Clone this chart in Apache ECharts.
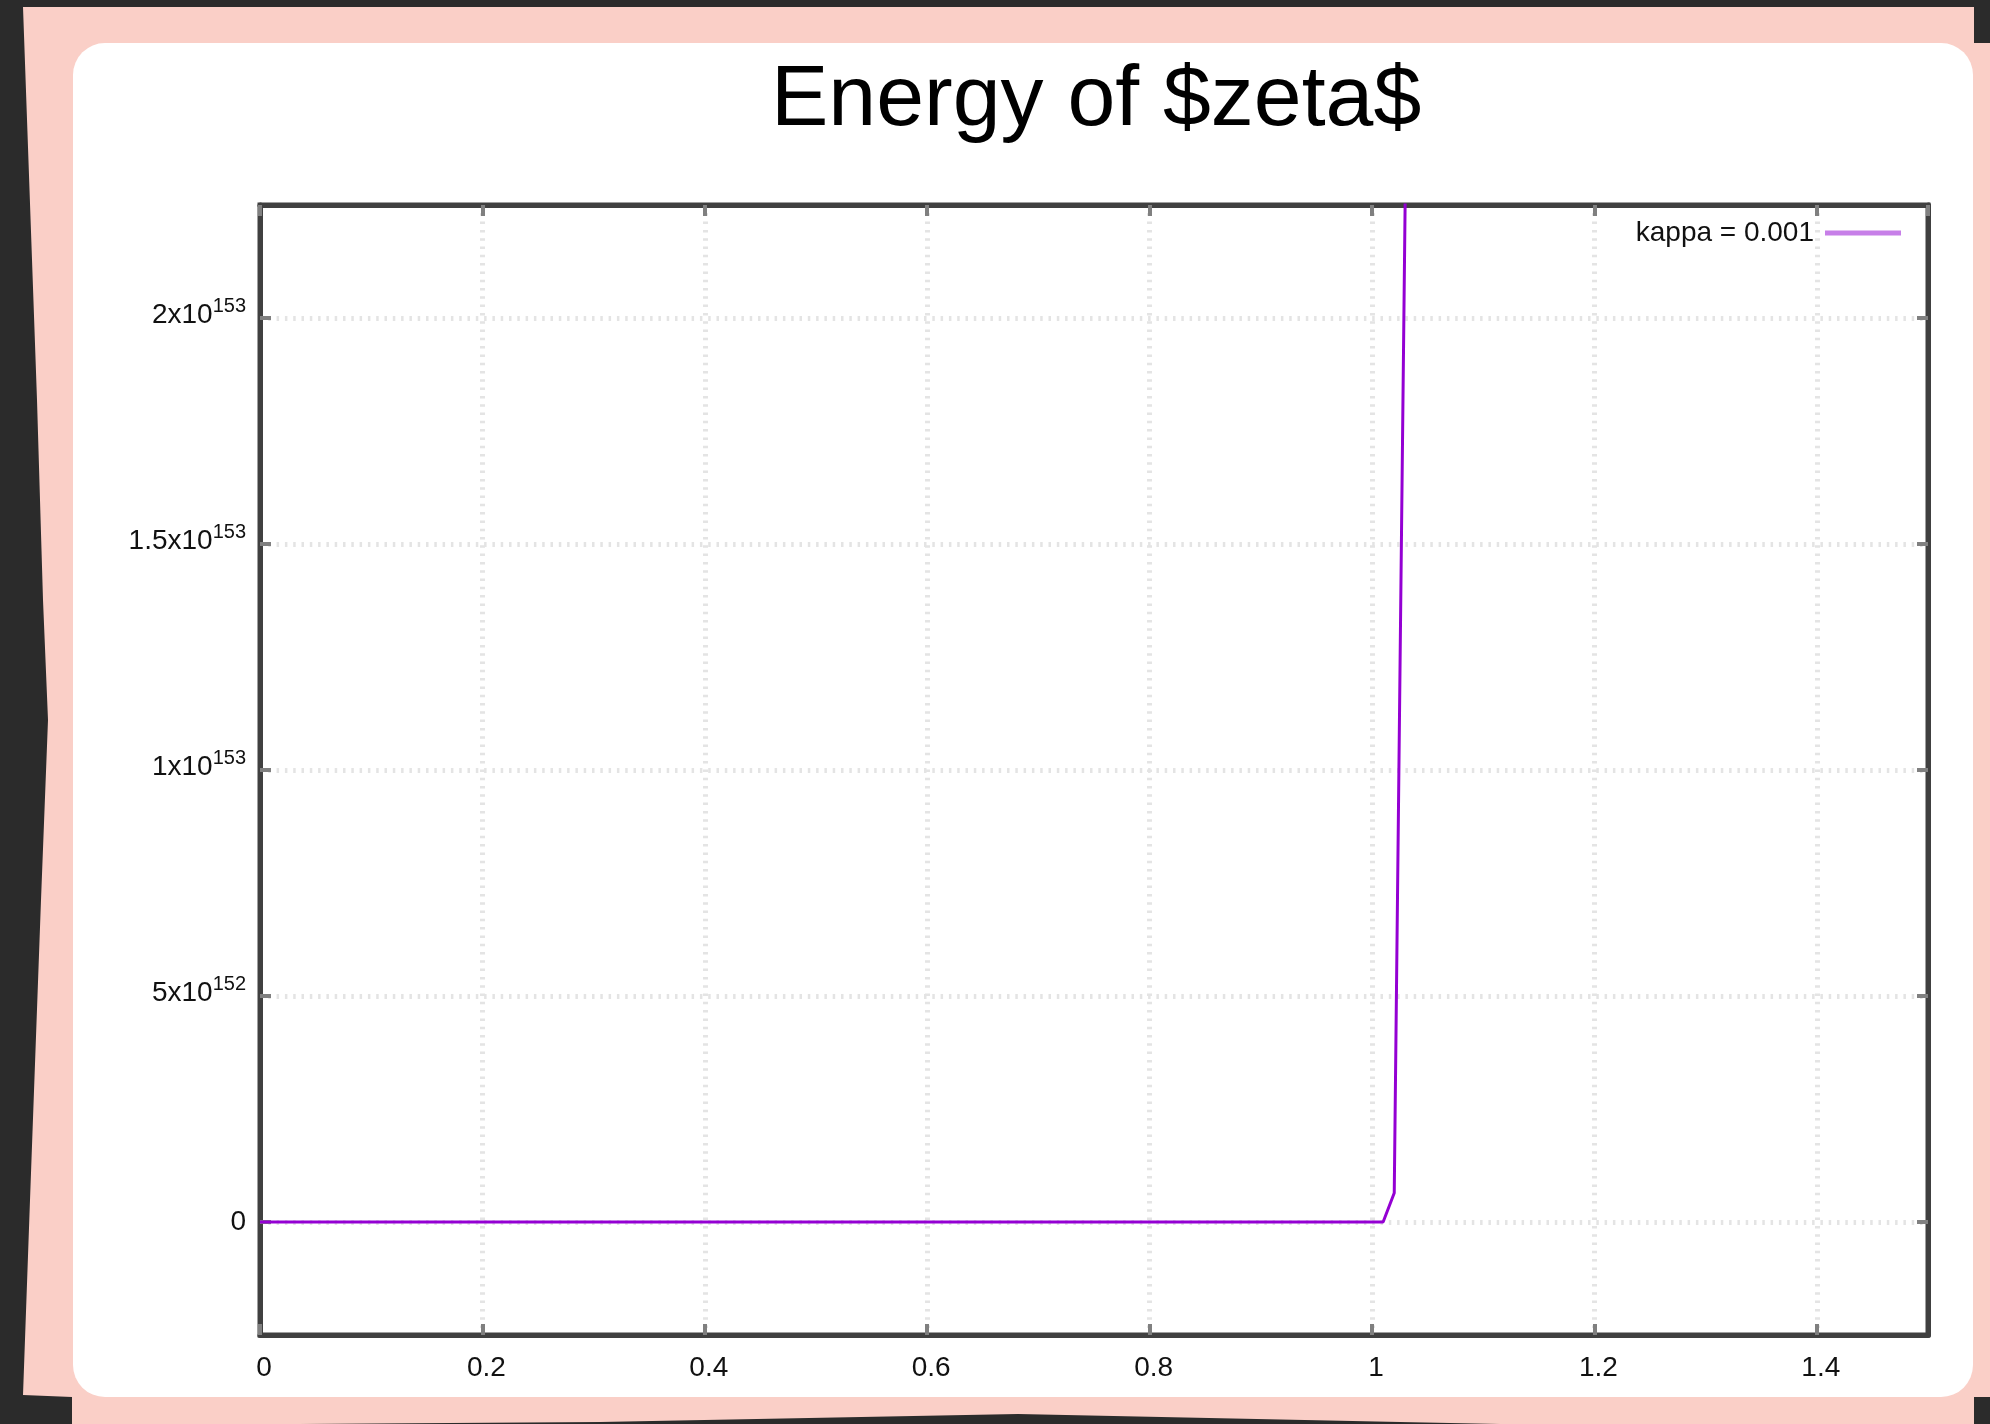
<!DOCTYPE html>
<html>
<head>
<meta charset="utf-8">
<title>Energy of $zeta$</title>
<script src="https://cdn.jsdelivr.net/npm/echarts@6/dist/echarts.min.js"></script>
<style>
  html, body { margin: 0; padding: 0; background: #2b2b2b; }
  #chart { width: 1990px; height: 1424px; }
</style>
</head>
<body>
<div id="chart"></div>
<script>
// data
const xValues = [0, 1.01, 1.02, 1.03];
const energyValues = [0, 0, 6.4e151, 2.3e153];
const seriesName = 'kappa = 0.001';

// tick labels
const xTickLabels = ['0', '0.2', '0.4', '0.6', '0.8', '1', '1.2', '1.4'];
const yTickValues = [0, 5e152, 1e153, 1.5e153, 2e153];
const yTickMantissas = ['0', '5', '1', '1.5', '2'];
const yTickExponents = ['', '152', '153', '153', '153'];

const FONT = '"Liberation Sans", Arial, sans-serif';
const gridDash = { color: '#e4e4e4', width: 5, type: [2.5, 5.8] };

const chart = echarts.init(document.getElementById('chart'));

function xLabel(v) {
  const i = Math.round(v / 0.2);
  if (Math.abs(v - i * 0.2) < 1e-9 && i >= 0 && i < xTickLabels.length) return xTickLabels[i];
  return '';
}

function yLabel(v) {
  for (let i = 0; i < yTickValues.length; i++) {
    const t = yTickValues[i];
    if (Math.abs(v - t) <= 1e-6 * 1e153) {
      if (!yTickExponents[i]) return '{z|' + yTickMantissas[i] + '}';
      return '{m|' + yTickMantissas[i] + 'x10}{e|' + yTickExponents[i] + '}';
    }
  }
  return '';
}

const yRange = { min: -2.5e152, max: 2.25e153, interval: 2.5e152 };

const option = {
  animation: false,
  backgroundColor: 'transparent',
  graphic: [
    {
      type: 'polygon', z: -20, silent: true,
      shape: { points: [
        [23, 7], [1974, 7], [1974, 43], [1990, 43], [1990, 1397], [1974, 1397],
        [1974, 1424], [1500, 1424], [1400, 1422], [1018, 1414], [600, 1422],
        [300, 1424], [72, 1424], [72, 1397], [23, 1395], [30, 1200],
        [41, 900], [48, 720], [43, 600], [37, 400]
      ] },
      style: { fill: '#facfc7' }
    },
    {
      type: 'rect', z: -10, silent: true,
      shape: { x: 73, y: 43, width: 1900, height: 1354, r: 32 },
      style: { fill: '#ffffff' }
    }
  ],
  title: {
    text: 'Energy of $zeta$',
    left: 771, top: 58, padding: 0,
    textStyle: { fontFamily: FONT, fontSize: 86, fontWeight: 'normal', color: '#000' }
  },
  legend: {
    data: [{ name: seriesName, icon: 'rect', itemStyle: { color: '#c77fe8', borderWidth: 0 } }],
    right: 89, top: 219, padding: 0,
    align: 'right',
    itemWidth: 76, itemHeight: 5,
    textStyle: { fontFamily: FONT, fontSize: 28, color: '#111', padding: [0, 6, 0, 0] }
  },
  grid: {
    left: 260, right: 62, top: 205, bottom: 89,
    show: true, borderColor: '#404040', borderWidth: 5, backgroundColor: 'transparent'
  },
  xAxis: [
    {
      type: 'value', position: 'bottom', min: 0, max: 1.5, interval: 0.2,
      axisLine: { show: true, onZero: false, lineStyle: { color: '#404040', width: 5 } },
      axisTick: { show: true, inside: true, length: 11, lineStyle: { color: '#808080', width: 4 } },
      axisLabel: {
        margin: 19, formatter: xLabel, fontFamily: FONT, fontSize: 28, color: '#111',
        showMaxLabel: false, padding: [0, 0, 0, 8]
      },
      splitLine: { show: true, lineStyle: gridDash }
    },
    {
      type: 'value', position: 'top', min: 0, max: 1.5, interval: 0.2,
      axisLine: { show: true, onZero: false, lineStyle: { color: '#404040', width: 5 } },
      axisTick: { show: true, inside: true, length: 11, lineStyle: { color: '#808080', width: 4 } },
      axisLabel: { show: false },
      splitLine: { show: false }
    }
  ],
  yAxis: [
    {
      type: 'value', position: 'left', min: yRange.min, max: yRange.max, interval: yRange.interval,
      axisLine: { show: true, onZero: false, lineStyle: { color: '#404040', width: 5 } },
      axisTick: { show: true, inside: true, length: 11, customValues: yTickValues, lineStyle: { color: '#808080', width: 4 } },
      axisLabel: {
        margin: 14, formatter: yLabel, customValues: yTickValues,
        fontFamily: FONT, fontSize: 28, color: '#111',
        rich: {
          z: { fontFamily: FONT, fontSize: 28, lineHeight: 28, color: '#111' },
          m: { fontFamily: FONT, fontSize: 28, lineHeight: 28, padding: [0, 0, 5, 0], color: '#111' },
          e: { fontFamily: FONT, fontSize: 20, lineHeight: 20, padding: [0, 0, 24, 0], color: '#111' }
        }
      },
      splitLine: { show: true, lineStyle: gridDash }
    },
    {
      type: 'value', position: 'right', min: yRange.min, max: yRange.max, interval: yRange.interval,
      axisLine: { show: true, onZero: false, lineStyle: { color: '#404040', width: 5 } },
      axisTick: { show: true, inside: true, length: 11, customValues: yTickValues, lineStyle: { color: '#808080', width: 4 } },
      axisLabel: { show: false },
      splitLine: { show: false }
    }
  ],
  series: [
    {
      name: seriesName,
      type: 'line',
      xAxisIndex: 0, yAxisIndex: 0,
      showSymbol: false,
      clip: true,
      lineStyle: { color: '#9400d3', width: 3 },
      itemStyle: { color: '#9400d3' },
      data: xValues.map((x, i) => [x, energyValues[i]])
    }
  ]
};

chart.setOption(option);
</script>
</body>
</html>
